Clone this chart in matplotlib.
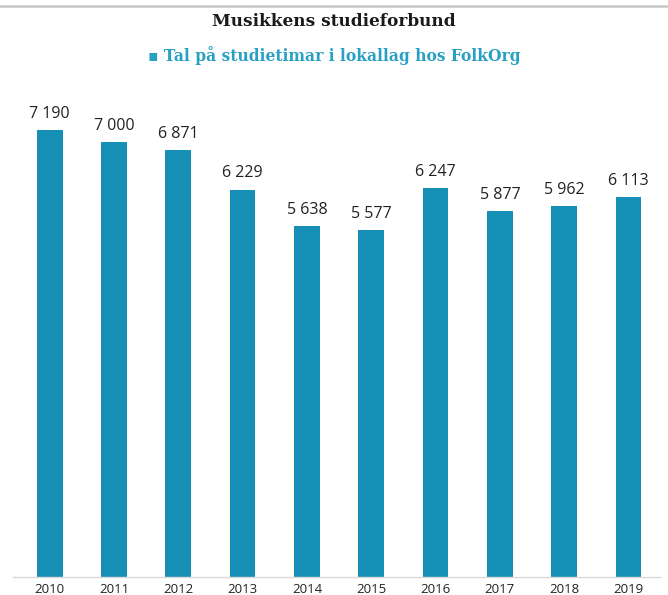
import matplotlib
matplotlib.use("Agg")
import matplotlib.pyplot as plt
from matplotlib.lines import Line2D

years = ['2010', '2011', '2012', '2013', '2014', '2015', '2016', '2017', '2018', '2019']
hours = [7190, 7000, 6871, 6229, 5638, 5577, 6247, 5877, 5962, 6113]
labels = ['7 190', '7 000', '6 871', '6 229', '5 638', '5 577', '6 247', '5 877', '5 962', '6 113']

bar_col = '#168fb6'
legend_col = '#27a0c4'

fig = plt.figure(figsize=(6.68, 5.95), dpi=100)
ax = fig.add_axes([13 / 668, 1 - 577 / 595, 647 / 668, 487 / 595])

x = range(len(years))
ax.bar(x, hours, width=0.40, color=bar_col)
for i, v in enumerate(hours):
    ax.text(i, v + 130, labels[i], ha='center', va='bottom',
            fontsize=11.5, family='Open Sans', color='#222222')

ax.set_xlim(-0.57, 9.49)
ax.set_ylim(0, 7830)
ax.set_xticks(list(x))
ax.set_xticklabels(years, fontsize=9.5, family='Open Sans', color='#222222')
ax.tick_params(axis='x', length=0, pad=4)
ax.set_yticks([])
for s in ['top', 'right', 'left']:
    ax.spines[s].set_visible(False)
ax.spines['bottom'].set_color('#d9d9d9')
ax.spines['bottom'].set_linewidth(1)

# top frame line
fig.add_artist(Line2D([0, 667 / 668], [1 - 5.5 / 595] * 2, color='#c8c8c8', lw=1.8))

fig.text(0.5, 1 - 22 / 595, 'Musikkens studieforbund', ha='center', va='center',
         fontsize=12.2, family='DejaVu Serif', weight='bold', color='#1a1a1a')
fig.text(0.5, 1 - 56 / 595, '\u25aa Tal på studietimar i lokallag hos FolkOrg', ha='center',
         va='center', fontsize=11.2, family='DejaVu Serif', weight='bold', color=legend_col)

fig.savefig('out.png', dpi=100)
